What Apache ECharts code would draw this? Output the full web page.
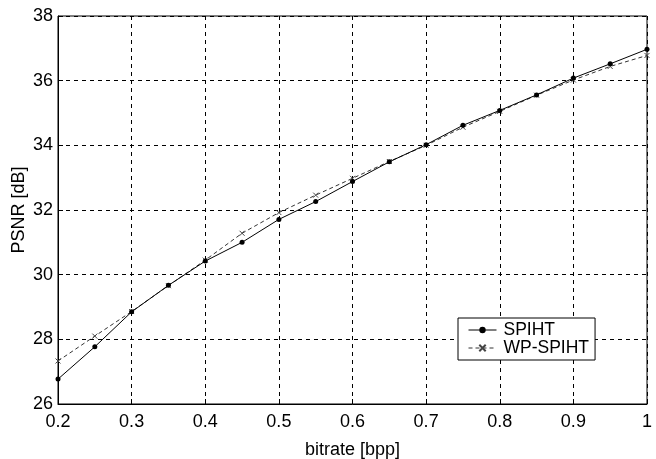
<!DOCTYPE html>
<html>
<head>
<meta charset="utf-8">
<script src="https://cdn.jsdelivr.net/npm/echarts@6/dist/echarts.min.js"></script>
<style>
  html, body { margin: 0; padding: 0; background: #fff; }
  #chart { width: 656px; height: 459px; }
</style>
</head>
<body>
<div id="chart"></div>
<script>
// bitrate points (bpp)
var bitrate = [0.2, 0.25, 0.3, 0.35, 0.4, 0.45, 0.5, 0.55, 0.6, 0.65, 0.7, 0.75, 0.8, 0.85, 0.9, 0.95, 1.0];
// PSNR values (dB)
var spiht   = [26.77, 27.77, 28.85, 29.67, 30.42, 31.0, 31.71, 32.26, 32.88, 33.49, 34.02, 34.62, 35.08, 35.56, 36.08, 36.52, 36.97];
var wpSpiht = [27.33, 28.1, 28.86, 29.66, 30.45, 31.28, 31.92, 32.46, 32.98, 33.5, 34.0, 34.56, 35.05, 35.55, 36.02, 36.44, 36.78];

function pairs(ys) {
    var out = [];
    for (var i = 0; i < bitrate.length; i++) out.push([bitrate[i], ys[i]]);
    return out;
}

var chart = echarts.init(document.getElementById('chart'));
var font = 'Liberation Sans, Arial, Helvetica, sans-serif';
var gridDash = { color: '#000', width: 1, type: [4, 4] };

chart.setOption({
    animation: false,
    textStyle: { fontFamily: font },
    grid: {
        left: 58, right: 9, top: 16, bottom: 55,
        outerBoundsMode: 'none',
        show: true, borderColor: '#000', borderWidth: 1, backgroundColor: '#fff'
    },
    legend: {
        left: 458, top: 318,
        orient: 'vertical',
        backgroundColor: '#fff',
        borderColor: '#000', borderWidth: 1, borderRadius: 0,
        padding: [3, 6, 3, 10],
        itemGap: 0,
        itemWidth: 28, itemHeight: 8,
        lineStyle: { width: 1 },
        textStyle: { fontFamily: font, fontSize: 17.5, color: '#000', padding: [0, 0, 0, 2] },
        data: ['SPIHT', 'WP-SPIHT']
    },
    xAxis: {
        type: 'value', min: 0.2, max: 1, interval: 0.1,
        name: 'bitrate [bpp]', nameLocation: 'middle', nameGap: 37,
        nameMoveOverlap: false,
        nameTextStyle: { fontFamily: font, fontSize: 18, color: '#000' },
        axisLine: { lineStyle: { color: '#000' } },
        axisTick: { inside: true, length: 5, lineStyle: { color: '#000' } },
        axisLabel: {
            color: '#000', fontSize: 18, margin: 9,
            formatter: function (v) { return String(+v.toFixed(1)); }
        },
        splitLine: { show: true, lineStyle: gridDash }
    },
    yAxis: {
        type: 'value', min: 26, max: 38, interval: 2,
        name: 'PSNR [dB]', nameLocation: 'middle', nameGap: 30,
        nameMoveOverlap: false,
        nameTextStyle: { fontFamily: font, fontSize: 18, color: '#000' },
        axisLine: { show: true, lineStyle: { color: '#000' } },
        axisTick: { show: true, inside: true, length: 5, lineStyle: { color: '#000' } },
        axisLabel: { color: '#000', fontSize: 18, margin: 5 },
        splitLine: { show: true, lineStyle: gridDash }
    },
    series: [
        {
            name: 'SPIHT', type: 'line',
            data: pairs(spiht),
            symbol: 'circle', symbolSize: 5,
            lineStyle: { color: '#000', width: 1 },
            itemStyle: { color: '#000' },
            z: 3
        },
        {
            name: 'WP-SPIHT', type: 'line',
            data: pairs(wpSpiht),
            symbol: 'path://M0,0L10,10M10,0L0,10', symbolSize: 5,
            lineStyle: { color: '#333', width: 1, type: [4, 3] },
            itemStyle: { color: 'none', borderColor: '#444', borderWidth: 1 },
            z: 2
        }
    ]
});
</script>
</body>
</html>
